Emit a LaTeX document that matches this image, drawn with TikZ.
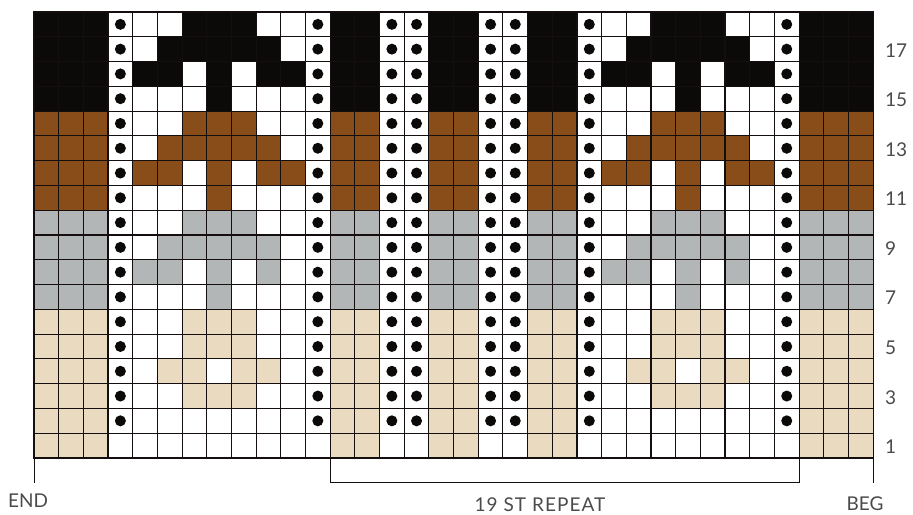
\documentclass[tikz,border=0pt]{standalone}
\usepackage{fontspec}
\setmainfont{Lato}
\definecolor{chtan}{RGB}{234,219,192}
\definecolor{chgray}{RGB}{178,182,182}
\definecolor{chbrown}{RGB}{137,77,26}
\definecolor{chblack}{RGB}{12,9,9}
\definecolor{chline}{RGB}{20,14,14}
\definecolor{chtext}{RGB}{75,75,75}
\tikzset{
    chartbase/.style={
        x=24.68pt, y=24.78pt,
        line cap=rect, line join=miter,
    },
    gridline/.style={draw=chline, line width=1.1pt},
    rulerline/.style={draw=chline, line width=0.8pt},
    chartlabel/.style={text=chtext, inner sep=0pt,
        font=\fontsize{19}{20}\selectfont},
}
% one stitch in the colour of its band
\newcommand{\knitcell}[2]{%
  \ifnum#2<7 \def\cellcol{chtan}\else
  \ifnum#2<11 \def\cellcol{chgray}\else
  \ifnum#2<15 \def\cellcol{chbrown}\else
  \def\cellcol{chblack}\fi\fi\fi
  \fill[\cellcol] ({#1-1},{#2-1}) rectangle (#1,#2);
}
% coloured stitches of both motifs in one row
\newcommand{\motif}[2]{%
  \foreach \m in {#2}{
    \pgfmathtruncatemacro{\ca}{\m+4}
    \pgfmathtruncatemacro{\cb}{\m+23}
    \knitcell{\ca}{#1}
    \knitcell{\cb}{#1}
  }
}
\newcommand{\kdot}[2]{\fill[chblack] ({#1-0.5},{#2-0.5}) circle (5.5pt);}

\begin{document}
\begin{tikzpicture}[chartbase]
\useasboundingbox (-1.378,-2.300) rectangle (35.616,18.483);
% colour bands
\fill[chtan] (0,0) rectangle (34,6);
\fill[chgray] (0,6) rectangle (34,10);
\fill[chbrown] (0,10) rectangle (34,14);
\fill[chblack] (0,14) rectangle (34,18);
% white columns
\foreach \c in {4,12,15,16,19,20,23,31}{
  \fill[white] ({\c-1},0) rectangle (\c,18);
}
\fill[white] (4,0) rectangle (11,18);
\fill[white] (23,0) rectangle (30,18);
% motifs, row by row
\motif{3}{3,4,5}
\motif{4}{2,3,5,6}
\motif{5}{3,4,5}
\motif{6}{3,4,5}
\motif{7}{4}
\motif{8}{1,2,4,6}
\motif{9}{2,3,4,5,6}
\motif{10}{3,4,5}
\motif{11}{4}
\motif{12}{1,2,4,6,7}
\motif{13}{2,3,4,5,6}
\motif{14}{3,4,5}
\motif{15}{4}
\motif{16}{1,2,4,6,7}
\motif{17}{2,3,4,5,6}
\motif{18}{3,4,5}
% grid
\foreach \c in {0,...,34}{
  \draw[gridline] (\c,0) -- (\c,18);
}
\foreach \r in {0,...,18}{
  \draw[gridline] (0,\r) -- (34,\r);
}
% purl dots
\foreach \c in {4,12,15,16,19,20,23,31}{
  \foreach \r in {2,...,18}{
    \kdot{\c}{\r}
  }
}
% end, repeat and beginning marks
\draw[rulerline] (0,0) -- (0,-1);
\draw[rulerline] (34,0) -- (34,-1);
\draw[rulerline] (12,0) -- (12,-1) -- (31,-1) -- (31,0);
\node[chartlabel] (endlbl) at (-0.243,-1.735) {END};
\node[chartlabel] (replbl) at (20.50,-1.88)
  {\addfontfeature{LetterSpace=5.5}19 ST REPEAT};
\node[chartlabel] (beglbl) at (33.67,-1.83) {BEG};
\foreach \r in {1,3,...,17}{
  \node[chartlabel, anchor=west] (row\r) at (34.48,\r-0.55) {\r};
}
\end{tikzpicture}
\end{document}
